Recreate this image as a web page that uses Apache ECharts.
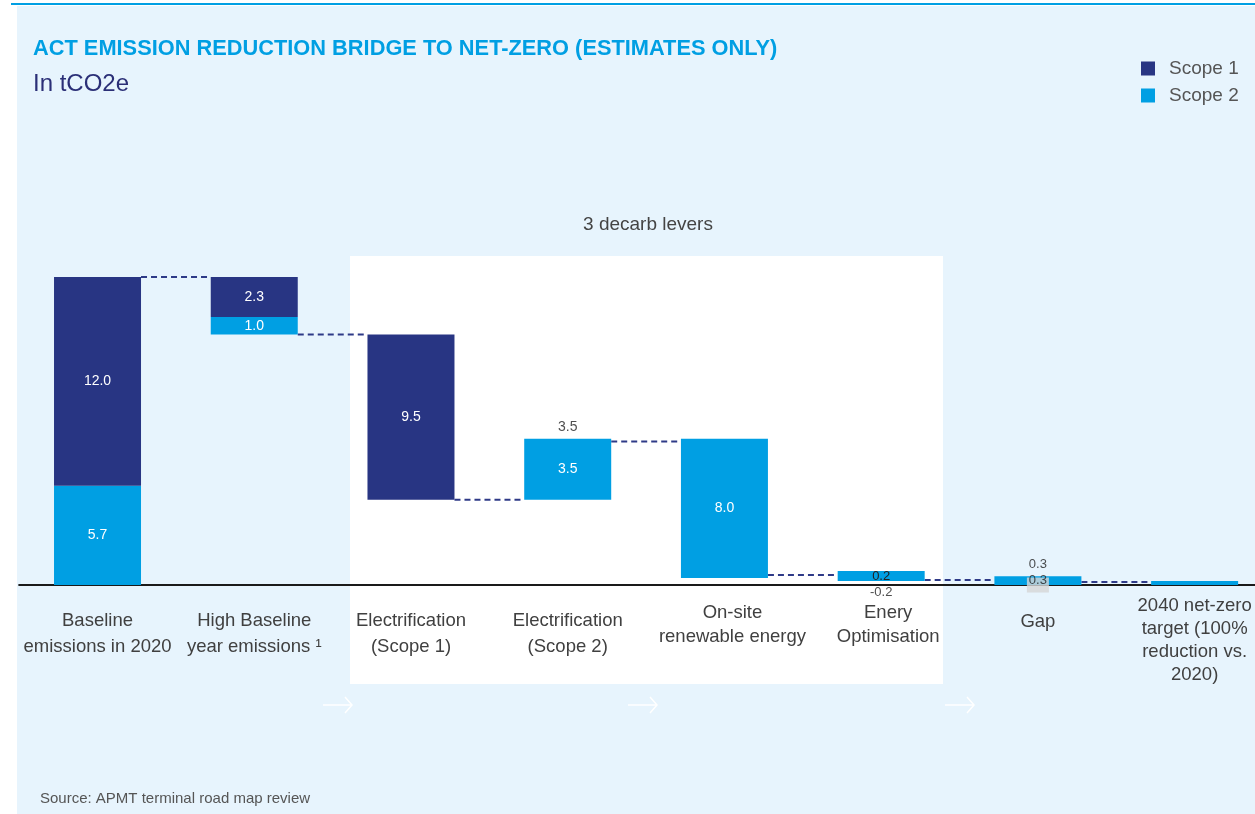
<!DOCTYPE html>
<html>
<head>
<meta charset="utf-8">
<script src="https://cdn.jsdelivr.net/npm/echarts@6/dist/echarts.min.js"></script>
<style>
  html, body { margin: 0; padding: 0; background: #ffffff; overflow: hidden; }
  #wrap { position: relative; width: 1255px; height: 814px; overflow: hidden; }
  #panel { position: absolute; left: 17px; top: 6px; right: 0; bottom: 0; background: #e7f4fd; }
  #topline { position: absolute; left: 11px; top: 3px; right: 0; height: 2px; background: #009fe3; }
  /* the plot runs past the right edge, as in the original */
  #chart { position: absolute; left: 0; top: 0; width: 1273px; height: 814px; }
</style>
</head>
<body>
<div id="wrap">
  <div id="panel"></div>
  <div id="topline"></div>
  <div id="chart"></div>
</div>
<script>
var myChart = null
var chartDom = document.getElementById('chart')

// categories on the bridge
var categories = [
  'Baseline\nemissions in 2020',
  'High Baseline\nyear emissions ¹',
  'Electrification\n(Scope 1)',
  'Electrification\n(Scope 2)',
  'On-site\nrenewable energy',
  'Enery\nOptimisation',
  'Gap',
  '2040 net-zero\ntarget (100%\nreduction vs.\n2020)'
]

// invisible base of each floating bar
var baseValues = [0, 14.4, 4.9, 4.9, 0.4, 0.23, 0, 0]
// visible segments
var scope2Values = [5.7, 1.0, 0, 3.5, 8.0, 0.57, 0.5, 0.23]
var scope1Values = [12.0, 2.3, 9.5, 0, 0, 0, 0, 0]
// texts printed on the segments
var scope2Labels = ['5.7', '1.0', '', '3.5', '8.0', '0.2', '', '']
var scope1Labels = ['12.0', '2.3', '9.5', '', '', '', '', '']

// dashed connectors between neighbouring bars (level after category i)
var connectorLevels = [17.7, 14.4, 4.9, 8.25, 0.57, 0.29, 0.17]

// loose notes above / below bars
var noteCats = [3, 5, 6]
var noteValues = [8.4, 0.23, 0.52]
var noteTexts = ['3.5', '-0.2', '0.3']
var notePos = ['top', 'bottom', 'top']

// grey marker on the gap bar
var gapBoxCat = 6
var gapBoxValue = 0
var gapBoxText = '0.3'

var NAVY = '#283583'
var BLUE = '#009fe3'
var BAR_W = 87

// per category label spacing (line height, top padding, left padding)
var labelLayout = [
  [26, 23, 0], [26, 23, 0], [26, 23, 0], [26, 23, 0],
  [24, 16, 16], [24, 16, 14], [26, 24, 0], [22.7, 10, 0]
]

function getOption() {
  return {
    animation: false,
    textStyle: { fontFamily: 'Liberation Sans, Arial, sans-serif' },
    title: {
      text: 'ACT EMISSION REDUCTION BRIDGE TO NET-ZERO (ESTIMATES ONLY)',
      subtext: 'In tCO2e',
      left: 33,
      top: 38,
      itemGap: 11,
      padding: 0,
      textStyle: {
        color: BLUE,
        fontSize: 21.8,
        fontWeight: 'bold',
        lineHeight: 22
      },
      subtextStyle: {
        color: '#2b2f77',
        fontSize: 24,
        lineHeight: 26
      }
    },
    legend: {
      data: ['Scope 1', 'Scope 2'],
      orient: 'vertical',
      left: 1141,
      top: 59,
      padding: 0,
      icon: 'rect',
      itemWidth: 14,
      itemHeight: 14,
      itemGap: 8,
      textStyle: {
        color: '#555555',
        fontSize: 19,
        lineHeight: 14,
        padding: [0, 0, 0, 9]
      }
    },
    graphic: [
      {
        type: 'rect',
        z: -10,
        shape: { x: 350, y: 256, width: 593, height: 428 },
        style: { fill: '#ffffff' }
      },
      {
        type: 'text',
        x: 648,
        y: 225,
        style: {
          text: '3 decarb levers',
          fill: '#444444',
          fontSize: 19,
          fontFamily: 'Liberation Sans, Arial, sans-serif',
          align: 'center',
          verticalAlign: 'middle'
        }
      },
      {
        type: 'text',
        x: 40,
        y: 799,
        style: {
          text: 'Source: APMT terminal road map review',
          fill: '#555555',
          fontSize: 15,
          fontFamily: 'Liberation Sans, Arial, sans-serif',
          verticalAlign: 'middle'
        }
      }
    ].concat([338, 643, 960].map(function (cx) {
      return {
        type: 'group',
        children: [
          { type: 'line', shape: { x1: cx - 15, y1: 705, x2: cx + 14, y2: 705 }, style: { stroke: '#ffffff', lineWidth: 1.5 } },
          { type: 'polyline', shape: { points: [[cx + 7, 697], [cx + 14, 705], [cx + 7, 713]] }, style: { stroke: '#ffffff', lineWidth: 1.5, fill: null } }
        ]
      }
    })),
    grid: {
      left: 19.15,
      right: 0,
      top: 237,
      bottom: 229,
      containLabel: false
    },
    xAxis: {
      type: 'category',
      data: categories.map(function (name, i) {
        return {
          value: name,
          textStyle: {
            lineHeight: labelLayout[i][0],
            padding: [labelLayout[i][1], 0, 0, labelLayout[i][2]]
          }
        }
      }),
      axisLine: { lineStyle: { color: '#1a1a1a', width: 2 } },
      axisTick: { show: false },
      axisLabel: {
        interval: 0,
        margin: 0,
        color: '#404040',
        fontSize: 18.5,
        hideOverlap: false
      },
      splitLine: { show: false }
    },
    yAxis: {
      type: 'value',
      min: 0,
      max: 20,
      show: false,
      splitLine: { show: false }
    },
    series: [
      {
        name: 'base',
        type: 'bar',
        stack: 'bridge',
        barWidth: BAR_W,
        silent: true,
        itemStyle: { color: 'transparent' },
        data: baseValues
      },
      {
        name: 'Scope 2',
        type: 'bar',
        stack: 'bridge',
        barWidth: BAR_W,
        itemStyle: { color: BLUE },
        label: {
          show: true,
          position: 'inside',
          color: '#ffffff',
          fontSize: 14,
          formatter: function (p) { return scope2Labels[p.dataIndex] }
        },
        data: scope2Values.map(function (v, i) {
          if (i === 5) return { value: v, label: { color: '#222222', fontSize: 13 } }
          return v
        })
      },
      {
        name: 'Scope 1',
        type: 'bar',
        stack: 'bridge',
        barWidth: BAR_W,
        itemStyle: { color: NAVY },
        label: {
          show: true,
          position: 'inside',
          color: '#ffffff',
          fontSize: 14,
          formatter: function (p) { return scope1Labels[p.dataIndex] }
        },
        data: scope1Values
      },
      {
        name: 'connectors',
        type: 'custom',
        silent: true,
        clip: false,
        data: connectorLevels.map(function (v, i) { return [i, v] }),
        encode: { x: 0, y: 1 },
        renderItem: function (params, api) {
          var p = api.coord([api.value(0), api.value(1)])
          var band = api.size([1, 0])[0]
          return {
            type: 'line',
            shape: { x1: p[0] + BAR_W / 2, y1: p[1], x2: p[0] + band - BAR_W / 2, y2: p[1] },
            style: { stroke: '#2e3a87', lineWidth: 2, lineDash: [6, 4] }
          }
        }
      },
      {
        name: 'gapBox',
        type: 'scatter',
        silent: true,
        symbol: 'rect',
        symbolSize: [22, 15],
        itemStyle: { color: '#d6d6d6' },
        label: {
          show: true,
          position: 'inside',
          offset: [0, -5],
          color: '#222222',
          fontSize: 13,
          formatter: function () { return gapBoxText }
        },
        data: [[gapBoxCat, gapBoxValue]]
      },
      {
        name: 'notes',
        type: 'scatter',
        silent: true,
        symbolSize: 0,
        data: noteCats.map(function (c, i) {
          return {
            value: [c, noteValues[i]],
            label: {
              show: true,
              position: notePos[i],
              distance: 5,
              color: '#222222',
              fontSize: i === 0 ? 14 : 13,
              formatter: noteTexts[i]
            }
          }
        })
      }
    ]
  }
}

function initChart() {
  myChart = echarts.init(chartDom, null, { renderer: 'canvas' })
  myChart.setOption(getOption())
}

initChart()
</script>
</body>
</html>
